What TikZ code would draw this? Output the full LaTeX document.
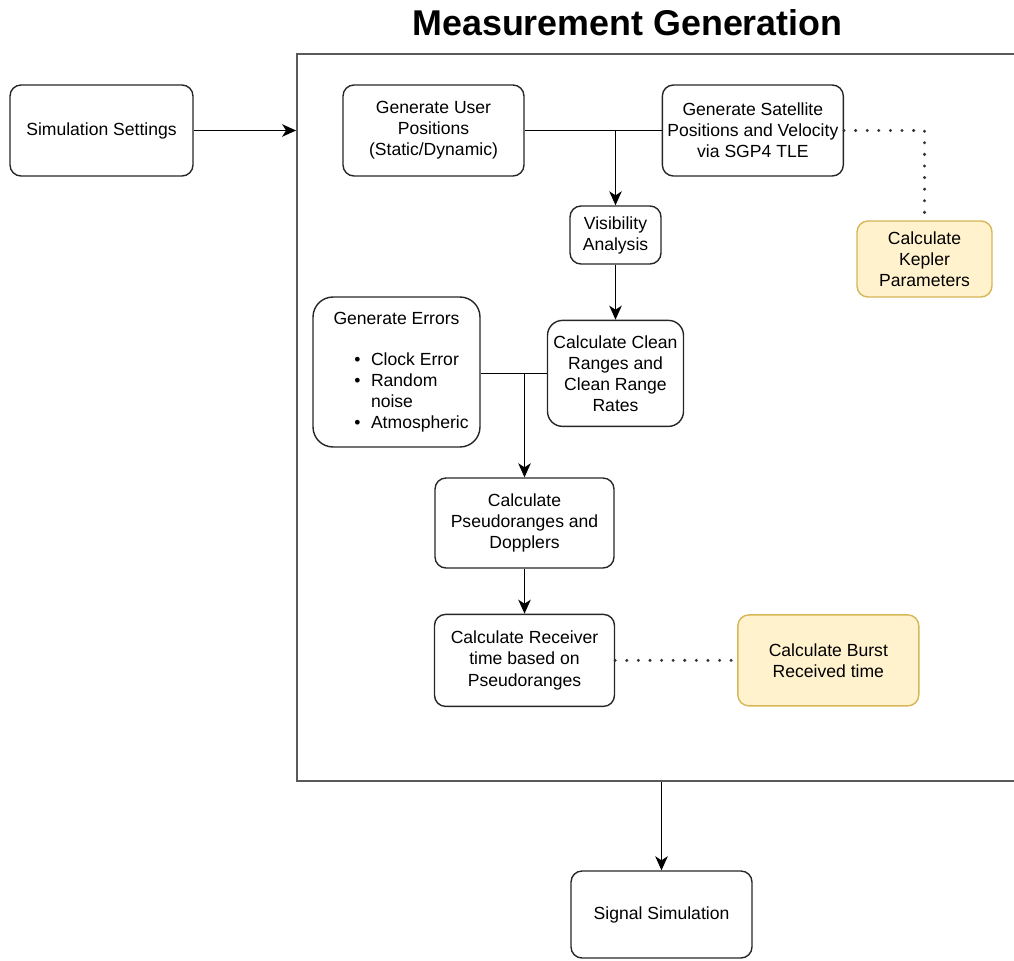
\documentclass[tikz,border=0pt]{standalone}
\usepackage{fontspec}
\setmainfont{Liberation Sans}
\usepackage{tikz}
\usetikzlibrary{arrows.meta,positioning,calc}
\definecolor{noteFill}{HTML}{FFF2CC}
\definecolor{noteLine}{HTML}{D6B656}
\definecolor{frameLine}{HTML}{5A5A5A}
\definecolor{boxLine}{HTML}{262626}
\tikzset{
    every node/.style={font=\fontsize{10}{12}\selectfont},
    stepbox/.style={rectangle, draw=boxLine, line width=0.8pt, rounded corners=0.22cm,
        align=center, inner xsep=1pt, inner ysep=2pt},
    notebox/.style={stepbox, draw=noteLine, fill=noteFill},
    flow/.style={-{Stealth[length=0.28cm,width=0.25cm,inset=0.08cm]}, line width=0.8pt, draw=black},
    wire/.style={line width=0.8pt, draw=black},
    aside/.style={line width=1.9pt, line cap=round, dash pattern=on 0pt off 6.6pt, draw=black!80}
}
\begin{document}
\begin{tikzpicture}[x=0.02cm,y=-0.02cm]
        \clip (0,0) rectangle (1014,960);
        % Outer container and its heading
        \node[draw=frameLine, line width=1.1pt, minimum width=14.66cm, minimum height=14.54cm] (frame) at (663.5,417.5) {};
        \node[anchor=base, font=\fontsize{20.4}{24}\selectfont\bfseries] (heading) at (627.5,35) {Measurement Generation};
        % Input side
        \node[stepbox, minimum width=3.66cm, minimum height=1.82cm] (settings) at (101.5,130.5) {Simulation Settings};
        \draw[flow] (settings.east) -- (settings.east -| frame.west);
        % Top row of generators
        \node[stepbox, minimum width=3.62cm, minimum height=1.82cm] (userpos) at (433.5,130.5) {Generate User\\Positions\\(Static/Dynamic)};
        \node[stepbox, minimum width=3.62cm, minimum height=1.82cm] (satpos) [right=2.74cm of userpos] {Generate Satellite\\Positions and Velocity\\via SGP4 TLE};
        \node[notebox, minimum width=2.7cm, minimum height=1.52cm] (kepler) at (924.5,259) {Calculate\\Kepler\\Parameters};
        \draw[wire] (userpos.east) -- (satpos.west);
        \draw[aside] (satpos.east) -| (kepler.north);
        % Visibility and clean measurements
        \node[stepbox, minimum width=1.82cm, minimum height=1.16cm] (visibility) at (615.5,235) {Visibility\\Analysis};
        \draw[flow] (visibility.north |- userpos.east) -- (visibility.north);
        \node[stepbox, rounded corners=0.3cm, minimum width=2.72cm, minimum height=2.12cm] (clean) [below=1.1cm of visibility] {Calculate Clean\\Ranges and\\Clean Range\\Rates};
        \draw[flow] (visibility) -- (clean);
        % Error sources
        \node[stepbox, rounded corners=0.4cm, minimum width=3.34cm, minimum height=3.0cm, text depth=0.7cm] (errors) at (396.5,372)
            {Generate Errors\\[14pt]\hspace*{0.6cm}\begin{tabular}{@{}l@{\hspace{6pt}}l@{}}
             \textbullet & Clock Error\\ \textbullet & Random\\ & noise\\ \textbullet & Atmospheric\end{tabular}};
        \draw[wire] (errors.east |- clean.west) -- (clean.west);
        % Pseudoranges and receiver time
        \node[stepbox, minimum width=3.58cm, minimum height=1.8cm] (pseudo) at (524.5,523) {Calculate\\Pseudoranges and\\Dopplers};
        \draw[flow] (pseudo.north |- clean.west) -- (pseudo.north);
        \node[stepbox, minimum width=3.6cm, minimum height=1.84cm] (receiver) [below=0.9cm of pseudo] {Calculate Receiver\\time based on\\Pseudoranges};
        \draw[flow] (pseudo) -- (receiver);
        \node[notebox, minimum width=3.62cm, minimum height=1.82cm] (burst) [right=2.44cm of receiver] {Calculate Burst\\Received time};
        \draw[aside] (receiver.east) -- (burst.west);
        % Output
        \node[stepbox, minimum width=3.62cm, minimum height=1.74cm] (signal) at (661.5,914.5) {Signal Simulation};
        \draw[flow] (signal.north |- frame.south) -- (signal.north);
    \end{tikzpicture}
\end{document}
